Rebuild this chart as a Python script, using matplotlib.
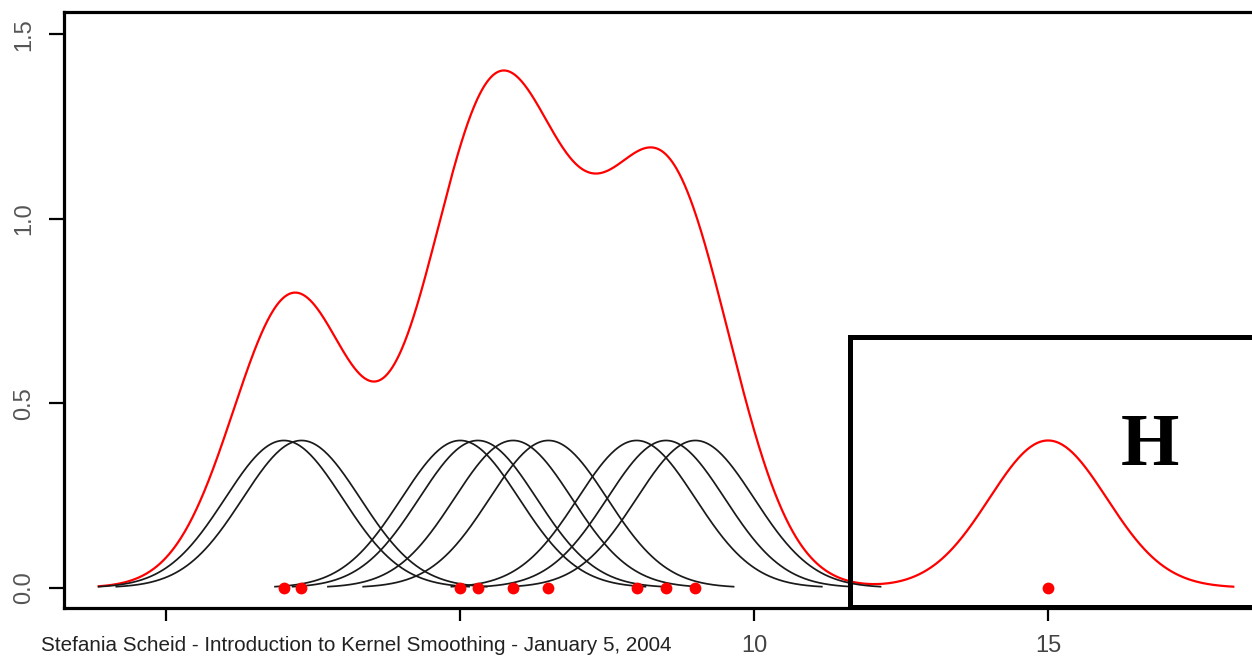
import numpy as np
import matplotlib
matplotlib.use("Agg")
import matplotlib.pyplot as plt
from matplotlib import font_manager
from matplotlib.patches import Rectangle

# ---- data ----
obs_points = [2.0, 2.3, 5.0, 5.3, 5.9, 6.5, 8.0, 8.5, 9.0]   # points with black kernels
extra_points = [15.0]                                         # point in the "H" box
bandwidth = 1.0
x_ticks = [0, 5, 10, 15]
x_tick_labels = ["", "", "10", "15"]
y_ticks = [0.0, 0.5, 1.0, 1.5]
y_tick_labels = ["0.0", "0.5", "1.0", "1.5"]
footer = "Stefania Scheid - Introduction to Kernel Smoothing - January 5, 2004"
box_label = "H"

def pick(fams):
    for f in fams:
        try:
            font_manager.findfont(f, fallback_to_default=False)
            return f
        except Exception:
            pass
    return "DejaVu Sans"

narrow = pick(["Liberation Sans Narrow", "Liberation Sans"])
sans = pick(["Liberation Sans", "DejaVu Sans"])
serif = pick(["Liberation Serif", "DejaVu Serif"])

def gauss(x, m, h):
    return np.exp(-0.5 * ((x - m) / h) ** 2) / (h * np.sqrt(2 * np.pi))

W, H = 1252, 659
fig = plt.figure(figsize=(W / 100, H / 100), dpi=100)
# axes box in pixels: left 64, right beyond canvas (~1275), top 12, bottom 608
ax = fig.add_axes([64 / W, (H - 608) / H, (1275 - 64) / W, (608 - 12) / H])
ax.set_xlim(-1.74, 18.86)
ax.set_ylim(-0.055, 1.56)

all_points = obs_points + extra_points
span = 3.15
xs = np.linspace(min(all_points) - span, max(all_points) + span, 1500)
dens = sum(gauss(xs, p, bandwidth) for p in all_points)
ax.plot(xs, dens, color="#ff0000", lw=1.6, zorder=2)

for p in obs_points:
    xk = np.linspace(p - span, p + span, 300)
    ax.plot(xk, gauss(xk, p, bandwidth), color="#1a1a1a", lw=1.25, zorder=3)

ax.plot(all_points, [0] * len(all_points), "o", color="#ff0000", ms=8.5,
        mec="none", zorder=4, clip_on=False)

for s in ["left", "bottom", "top", "right"]:
    ax.spines[s].set_linewidth(2.3)
    ax.spines[s].set_color("black")

ax.set_xticks(x_ticks)
ax.set_xticklabels(x_tick_labels, fontfamily=narrow, fontsize=17, color="#444444")
ax.set_yticks(y_ticks)
ax.set_yticklabels(y_tick_labels, fontfamily=sans, fontsize=17, color="#555555",
                   rotation=90, va="center")
ax.tick_params(axis="x", length=9.5, width=1.6, pad=10)
ax.tick_params(axis="y", length=11, width=1.6, pad=10)

# overlay box with "H"
rect = Rectangle((850 / W, (H - 607) / H), (1300 - 850) / W, (607 - 337) / H,
                 transform=fig.transFigure, fill=False, ec="black", lw=3.6,
                 zorder=10, clip_on=False)
fig.add_artist(rect)
ax.text(16.73, 0.38, box_label, fontfamily=serif, fontweight="bold",
        fontsize=54, ha="center", va="center", color="black", zorder=11)

# footer
t = fig.text(41 / W, (H - 651) / H, footer, fontfamily=narrow, fontsize=15,
             color="#222222", ha="left", va="baseline")
fig.canvas.draw()
bb = t.get_window_extent()
target = 672 - 41
t.set_fontsize(15 * target / bb.width)

fig.savefig("out.png", dpi=100)
